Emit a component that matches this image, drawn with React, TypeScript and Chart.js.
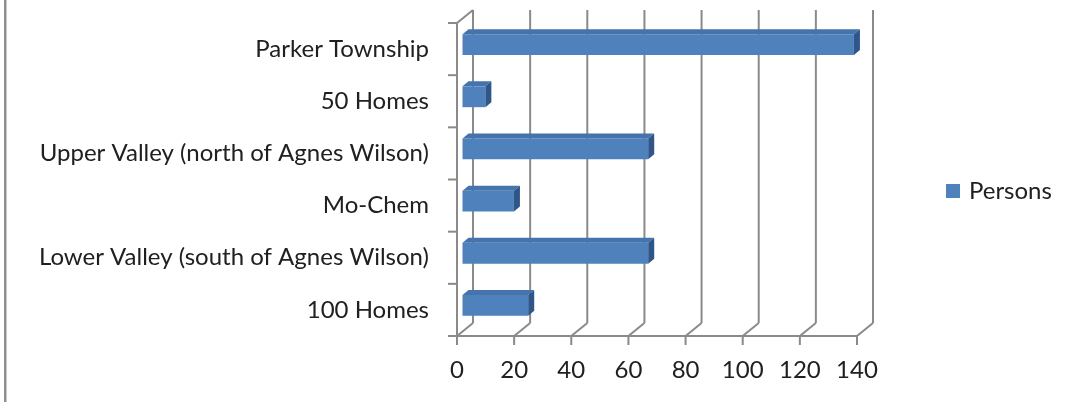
import React, { useEffect, useRef } from "react";
import { Chart, registerables } from "chart.js";

Chart.register(...registerables);

// Population counts per area
const categories = [
  "Parker Township",
  "50 Homes",
  "Upper Valley (north of Agnes Wilson)",
  "Mo-Chem",
  "Lower Valley (south of Agnes Wilson)",
  "100 Homes",
];
const persons = [137, 8, 65, 18, 65, 23];
const seriesName = "Persons";
const xTicks = [0, 20, 40, 60, 80, 100, 120, 140];

const W = 1071;
const H = 402;
const FONT = "Lato";
const FONT_SIZE = 24;
const TEXT = "#202020";
const GRID = "#8a8a8a";
const BAR_FRONT = "#4f81bd";
const BAR_TOP = "#4573ab";
const BAR_SIDE = "#2f5688";

// perspective offsets: back wall relative to the front plane, bars inside the box
const WALL = { x: 16, y: -13 };
const BAR_SHIFT = { x: 5.5, y: -4.5 };
const BAR_DEPTH = { x: 6, y: -5 };

const boxPlugin = {
  id: "box3d",
  beforeDatasetsDraw(chart: any) {
    const { ctx, chartArea: a } = chart;
    const xs = chart.scales.x;
    const ys = chart.scales.y;
    const line = (x1: number, y1: number, x2: number, y2: number) => {
      ctx.beginPath();
      ctx.moveTo(x1, y1);
      ctx.lineTo(x2, y2);
      ctx.stroke();
    };
    ctx.save();
    ctx.strokeStyle = GRID;
    ctx.lineWidth = 2;
    ctx.lineCap = "butt";
    for (const v of xTicks) {
      const px = xs.getPixelForValue(v);
      // back wall gridline
      line(px + WALL.x, a.top + WALL.y, px + WALL.x, a.bottom + WALL.y);
      // floor diagonal
      line(px, a.bottom, px + WALL.x, a.bottom + WALL.y);
      // tick mark
      line(px, a.bottom, px, a.bottom + 9);
    }
    // front floor edge
    line(a.left - 1, a.bottom, a.right + 1, a.bottom);
    // left wall front edge and top diagonal
    line(a.left, a.top, a.left, a.bottom);
    line(a.left, a.top, a.left + WALL.x, a.top + WALL.y);
    for (let k = 0; k <= categories.length; k++) {
      const py = ys.getPixelForValue(k - 0.5);
      line(a.left - 9, py, a.left, py);
    }
    ctx.restore();

    // bars sit partway into the box
    ctx.save();
    ctx.translate(BAR_SHIFT.x, BAR_SHIFT.y);
  },
  afterDatasetsDraw(chart: any) {
    const { ctx } = chart;
    const meta = chart.getDatasetMeta(0);
    for (const el of meta.data) {
      const { x, y, base, height } = el.getProps(["x", "y", "base", "height"], true);
      const top = y - height / 2;
      const bottom = y + height / 2;
      // top face
      ctx.fillStyle = BAR_TOP;
      ctx.beginPath();
      ctx.moveTo(base, top);
      ctx.lineTo(x, top);
      ctx.lineTo(x + BAR_DEPTH.x, top + BAR_DEPTH.y);
      ctx.lineTo(base + BAR_DEPTH.x, top + BAR_DEPTH.y);
      ctx.closePath();
      ctx.fill();
      // end face
      ctx.fillStyle = BAR_SIDE;
      ctx.beginPath();
      ctx.moveTo(x, top);
      ctx.lineTo(x + BAR_DEPTH.x, top + BAR_DEPTH.y);
      ctx.lineTo(x + BAR_DEPTH.x, bottom + BAR_DEPTH.y);
      ctx.lineTo(x, bottom);
      ctx.closePath();
      ctx.fill();
    }
    ctx.restore();
  },
  afterDraw(chart: any) {
    const { ctx } = chart;
    ctx.save();
    // frame edge on the left
    ctx.fillStyle = "#8f8f8f";
    ctx.fillRect(4, 0, 2.5, H);
    // legend
    const ds = chart.data.datasets[0];
    ctx.fillStyle = ds.backgroundColor;
    ctx.fillRect(946, 184, 14, 14);
    ctx.fillStyle = TEXT;
    ctx.font = `${FONT_SIZE}px ${FONT}`;
    ctx.textBaseline = "middle";
    ctx.textAlign = "left";
    ctx.fillText(ds.label, 969, 191);
    ctx.restore();
  },
};

export default function App() {
  const canvasRef = useRef<HTMLCanvasElement | null>(null);

  useEffect(() => {
    document.body.style.margin = "0";
    const canvas = canvasRef.current;
    if (!canvas) return;
    const font = { family: FONT, size: FONT_SIZE };
    const chart = new Chart(canvas, {
      type: "bar",
      data: {
        labels: categories,
        datasets: [
          {
            label: seriesName,
            data: persons,
            backgroundColor: BAR_FRONT,
            borderWidth: 0,
            barPercentage: 0.4,
            categoryPercentage: 1,
            clip: false as any,
          },
        ],
      },
      options: {
        indexAxis: "y",
        animation: false,
        responsive: false,
        devicePixelRatio: 1,
        layout: { padding: { top: 23, right: W - 857, left: 0, bottom: 0 } },
        plugins: {
          legend: { display: false },
          tooltip: { enabled: false },
        },
        scales: {
          x: {
            type: "linear",
            min: 0,
            max: 140,
            afterBuildTicks: (s: any) => {
              s.ticks = xTicks.map((v) => ({ value: v }));
            },
            afterFit: (s: any) => {
              s.height = 66;
              s.paddingLeft = 0;
              s.paddingRight = 0;
            },
            grid: { display: false, drawTicks: false },
            border: { display: false },
            ticks: { color: TEXT, font, padding: 20, maxRotation: 0 },
          },
          y: {
            type: "category",
            afterFit: (s: any) => {
              s.width = 457;
              s.paddingTop = 0;
              s.paddingBottom = 0;
            },
            grid: { display: false, drawTicks: false },
            border: { display: false },
            ticks: { color: TEXT, font, padding: 28 },
          },
        },
      },
      plugins: [boxPlugin],
    });
    return () => chart.destroy();
  }, []);

  return <canvas ref={canvasRef} width={W} height={H} style={{ display: "block" }} />;
}
